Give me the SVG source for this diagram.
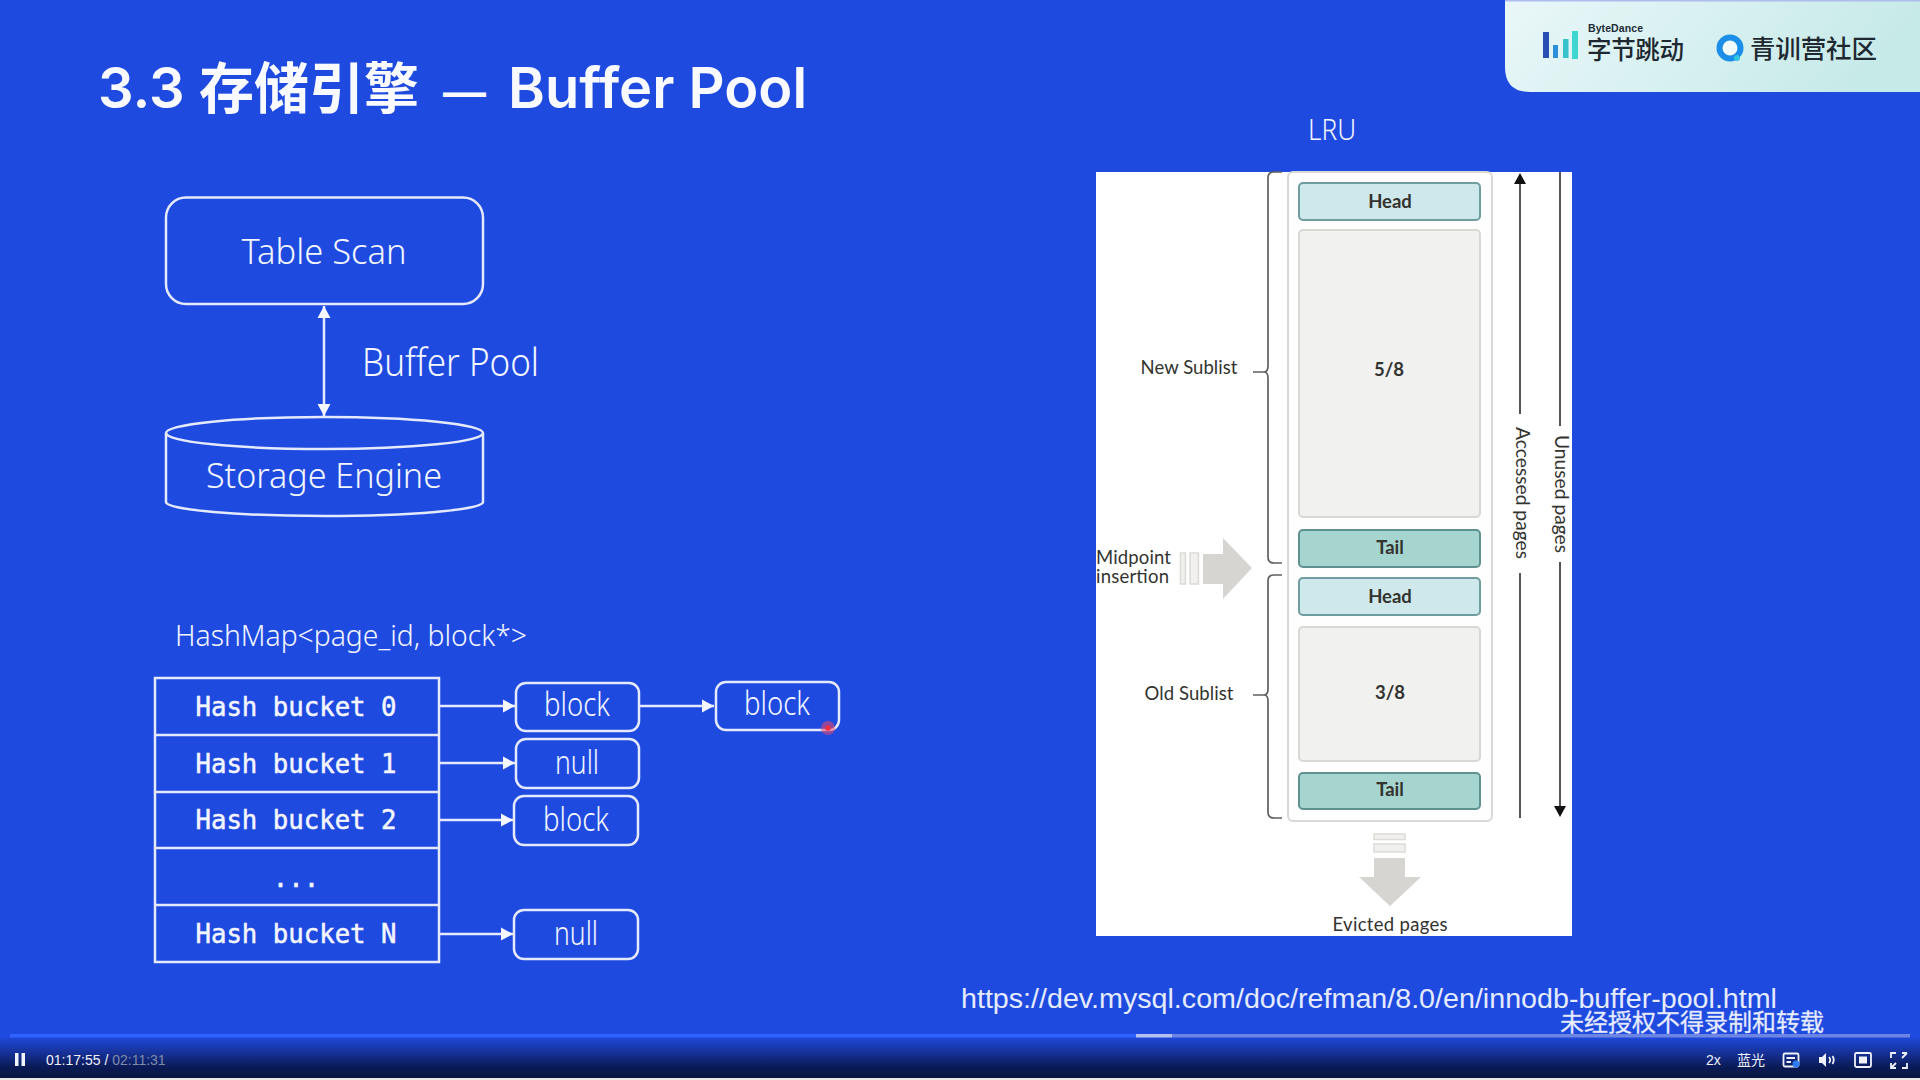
<svg xmlns="http://www.w3.org/2000/svg" width="1920" height="1080" viewBox="0 0 1920 1080">
<style>
.ln{fill:none;stroke:#e4eafc;stroke-width:2.5}
.wt{fill:#f2f6ff;font-family:"Noto Sans","Noto Sans CJK SC",sans-serif;font-weight:300;text-anchor:middle}
.bk{font-size:33px}
.hb{fill:#f3f6fe;stroke:#f3f6fe;stroke-width:0.5;font-family:"DejaVu Sans Mono","Liberation Mono",monospace;font-size:25.7px;text-anchor:middle}
.or{font-family:Lato,"Open Sans",sans-serif;fill:#33332f;text-anchor:middle}
.lb{font-size:18.5px}
.cell{font-size:18.5px;font-weight:bold}
.head{fill:#cfe8ec;stroke:#6f9c9e;stroke-width:2}
.tail{fill:#a6d4cf;stroke:#5e9290;stroke-width:2}
.gr{fill:#f1f1ef;stroke:#d8d8d5;stroke-width:2}
.br{fill:none;stroke:#5f5f5c;stroke-width:1.7}
.dk{fill:none;stroke:#55555a;stroke-width:2}
.ar{fill:#d6d5d2}
.sm{fill:#f1f0ee;stroke:#dcdbd8;stroke-width:1.5}
.ctl{fill:#eef1fa;font-family:"Liberation Sans","Noto Sans CJK SC",sans-serif;font-size:14px}
.ico{fill:none;stroke:#eef1fa;stroke-width:1.8}
</style>
<defs>
<marker id="wa" markerUnits="userSpaceOnUse" markerWidth="13" markerHeight="15" refX="12" refY="7.500" orient="auto-start-reverse"><path d="M0 1 L12 7.500 L0 14Z" fill="#f4f7fe"/></marker>
<linearGradient id="pg" x1="0" y1="0" x2="1" y2="0.2"><stop offset="0" stop-color="#eaf7f9"/><stop offset="1" stop-color="#c6eae8"/></linearGradient>
<linearGradient id="bar" x1="0" y1="0" x2="0" y2="1"><stop offset="0" stop-color="#1f4ae0"/><stop offset="0.4" stop-color="#163197"/><stop offset="0.75" stop-color="#0a1a55"/><stop offset="1" stop-color="#081540"/></linearGradient>
</defs>
<rect id="background" width="1920" height="1080" fill="#1f4ae0"/>
<text id="title" y="108" font-family="Inter,'Noto Sans CJK SC',sans-serif" font-size="56" font-weight="600" fill="#f8faff"><tspan x="98">3.3 </tspan><tspan x="199" font-size="55" font-family="'Noto Sans CJK SC',sans-serif" font-weight="700">存储引擎 </tspan><tspan x="443" font-size="43">— </tspan><tspan x="508">Buffer Pool</tspan></text>
<g id="logo-panel">
<path d="M1505 0H1920V92H1530Q1505 92 1505 67Z" fill="url(#pg)"/>
<rect x="1505" y="0" width="415" height="1.500" fill="#aebcf0"/>
<rect x="1543" y="32" width="6" height="26" fill="#2750b4"/><rect x="1553" y="45" width="5" height="13" fill="#2c8fd8"/><rect x="1563" y="39" width="5.500" height="19" fill="#37c2cc"/><rect x="1572" y="31" width="6" height="28" fill="#3fd6cf"/>
<text x="1588" y="32" font-family="'Liberation Sans',sans-serif" font-size="10.500" font-weight="bold" fill="#222c36" textLength="55">ByteDance</text>
<text x="1587" y="59" font-family="'Noto Sans CJK SC',sans-serif" font-size="24.500" font-weight="500" fill="#1e2830" textLength="97">字节跳动</text>
<circle cx="1730" cy="48" r="10.500" fill="#f1fbfb" stroke="#1a8ee8" stroke-width="6"/><circle cx="1737" cy="58" r="3" fill="#34c4e0"/>
<text x="1750" y="58" font-family="'Noto Sans CJK SC',sans-serif" font-size="25.500" font-weight="500" fill="#1e2830" textLength="127">青训营社区</text>
</g>
<g id="connectors">
<line class="ln" x1="324" y1="306" x2="324" y2="416" marker-start="url(#wa)" marker-end="url(#wa)"/>
<line class="ln" x1="439" y1="706" x2="515" y2="706" marker-end="url(#wa)"/>
<line class="ln" x1="640" y1="706" x2="714" y2="706" marker-end="url(#wa)"/>
<line class="ln" x1="439" y1="763" x2="515" y2="763" marker-end="url(#wa)"/>
<line class="ln" x1="439" y1="820" x2="513" y2="820" marker-end="url(#wa)"/>
<line class="ln" x1="439" y1="934" x2="513" y2="934" marker-end="url(#wa)"/>
</g>
<g id="table-scan"><rect class="ln" x="166" y="197.500" width="317" height="106.500" rx="20"/><text class="wt" x="324" y="264" font-size="35" textLength="165" lengthAdjust="spacingAndGlyphs">Table Scan</text></g>
<text id="buffer-pool-label" class="wt" x="450.500" y="376" font-size="38" textLength="177" lengthAdjust="spacingAndGlyphs">Buffer Pool</text>
<g id="storage-engine"><ellipse class="ln" cx="324.500" cy="433" rx="158.500" ry="16"/><path class="ln" d="M166 433V502C166 510 240 516 324.500 516S483 510 483 502V433"/><text class="wt" x="324" y="488" font-size="35" textLength="236" lengthAdjust="spacingAndGlyphs">Storage Engine</text></g>
<text id="hashmap-label" class="wt" x="351" y="646" font-size="30" textLength="352" lengthAdjust="spacingAndGlyphs">HashMap&lt;page_id, block*&gt;</text>
<g id="hash-table">
<rect class="ln" x="155" y="678" width="284" height="284"/>
<path class="ln" d="M155 735H439M155 792H439M155 848H439M155 905H439"/>
<text class="hb" x="296" y="716">Hash bucket 0</text>
<text class="hb" x="296" y="773">Hash bucket 1</text>
<text class="hb" x="296" y="829">Hash bucket 2</text>
<text class="hb" x="296" y="887">...</text>
<text class="hb" x="296" y="943">Hash bucket N</text>
</g>
<g id="block-0-1"><rect class="ln" x="516" y="683" width="123" height="48" rx="10"/><text class="wt bk" x="577" y="716" textLength="66" lengthAdjust="spacingAndGlyphs">block</text></g>
<g id="block-0-2"><rect class="ln" x="716" y="682" width="123" height="48" rx="10"/><text class="wt bk" x="777" y="715" textLength="66" lengthAdjust="spacingAndGlyphs">block</text></g>
<g id="null-1"><rect class="ln" x="516" y="739" width="123" height="49" rx="10"/><text class="wt bk" x="577" y="774" textLength="44" lengthAdjust="spacingAndGlyphs">null</text></g>
<g id="block-2"><rect class="ln" x="514" y="796" width="124" height="49" rx="10"/><text class="wt bk" x="576" y="831" textLength="66" lengthAdjust="spacingAndGlyphs">block</text></g>
<g id="null-n"><rect class="ln" x="514" y="910" width="124" height="49" rx="10"/><text class="wt bk" x="576" y="945" textLength="44" lengthAdjust="spacingAndGlyphs">null</text></g>
<g id="cursor"><circle cx="828" cy="728" r="7" fill="#e8476a" opacity="0.55"/><circle cx="828" cy="728" r="2.800" fill="#f03040"/></g>
<text id="lru-label" class="wt" x="1332" y="140" font-size="30" textLength="48" lengthAdjust="spacingAndGlyphs">LRU</text>
<g id="lru-figure">
<rect x="1096" y="172" width="476" height="764" fill="#fff"/>
<rect x="1288" y="172" width="204" height="649" rx="5" fill="#fefefe" stroke="#d8d8d6" stroke-width="2"/>
<path class="br" d="M1282 172H1274Q1268 172 1268 178V366Q1268 372 1264 372H1253M1264 372Q1268 372 1268 378V557Q1268 563 1274 563H1282"/>
<path class="br" d="M1282 575H1274Q1268 575 1268 581V689Q1268 695 1264 695H1253M1264 695Q1268 695 1268 701V812Q1268 818 1274 818H1282"/>
<g id="head-1"><rect class="head" x="1299" y="183" width="181" height="37" rx="4"/><text class="or cell" x="1390" y="208">Head</text></g>
<g id="new-5-8"><rect class="gr" x="1299" y="230" width="181" height="287" rx="4"/><text class="or cell" x="1389" y="376">5/8</text></g>
<g id="tail-1"><rect class="tail" x="1299" y="530" width="181" height="37" rx="4"/><text class="or cell" x="1390" y="554">Tail</text></g>
<g id="head-2"><rect class="head" x="1299" y="578" width="181" height="37" rx="4"/><text class="or cell" x="1390" y="603">Head</text></g>
<g id="old-3-8"><rect class="gr" x="1299" y="627" width="181" height="134" rx="4"/><text class="or cell" x="1390" y="699">3/8</text></g>
<g id="tail-2"><rect class="tail" x="1299" y="773" width="181" height="36" rx="4"/><text class="or cell" x="1390" y="796">Tail</text></g>
<text class="or lb" x="1189" y="374" textLength="97">New Sublist</text>
<text class="or lb" x="1189" y="700" textLength="89">Old Sublist</text>
<text class="or lb" x="1096" y="564" style="text-anchor:start" textLength="75">Midpoint</text>
<text class="or lb" x="1096" y="583" style="text-anchor:start" textLength="73">insertion</text>
<text class="or lb" x="1390" y="931" textLength="115">Evicted pages</text>
<rect class="sm" x="1180.500" y="553" width="5" height="31"/><rect class="sm" x="1190" y="553" width="8.500" height="31"/>
<path class="ar" d="M1203 554H1223V538L1252 568L1223 599V584H1203Z"/>
<rect class="sm" x="1374" y="834" width="31" height="5.500"/><rect class="sm" x="1374" y="844" width="31" height="8"/>
<path class="ar" d="M1374 858H1405V877H1421L1390 906L1359 877H1374Z"/>
<path class="dk" d="M1520 414V177M1520 573V818"/><path d="M1520 173L1514 184H1526Z" fill="#111"/>
<path class="dk" d="M1560 172V426M1560 562V807"/><path d="M1560 817L1554 806H1566Z" fill="#111"/>
<text class="or lb" transform="translate(1516 493) rotate(90)" textLength="132" lengthAdjust="spacingAndGlyphs">Accessed pages</text>
<text class="or lb" transform="translate(1555 494) rotate(90)" textLength="118" lengthAdjust="spacingAndGlyphs">Unused pages</text>
</g>
<text id="url" x="961" y="1008" font-family="'Liberation Sans',sans-serif" font-size="27" fill="#e4ebfc" textLength="816" lengthAdjust="spacingAndGlyphs">https://dev.mysql.com/doc/refman/8.0/en/innodb-buffer-pool.html</text>
<g id="player">
<rect y="1036" width="1920" height="42" fill="url(#bar)"/>
<rect y="1078" width="1920" height="2" fill="#e8e8e8"/>
<rect x="10" y="1034" width="1126" height="3.500" fill="#2f62ff"/>
<rect x="1136" y="1034" width="36" height="3.500" fill="#b4c0ee"/>
<rect x="1172" y="1034" width="738" height="3.500" fill="#6c84e2"/>
<rect x="15" y="1053" width="3.500" height="13" fill="#f2f4fb"/><rect x="21.500" y="1053" width="3.500" height="13" fill="#f2f4fb"/>
<text class="ctl" x="46" y="1065">01:17:55 / <tspan fill="#7f8aa8">02:11:31</tspan></text>
<text class="ctl" x="1706" y="1065">2x</text>
<text class="ctl" x="1737" y="1065">蓝光</text>
<rect class="ico" x="1783.500" y="1053.500" width="15" height="13" rx="1.500"/><path class="ico" d="M1786.500 1058H1795M1786.500 1062H1791"/><circle cx="1796" cy="1064" r="3.500" fill="#2f7cf0"/>
<path d="M1819 1057H1822L1826 1053V1067L1822 1063H1819Z" fill="#eef1fa"/><path class="ico" d="M1829 1057Q1831.500 1060 1829 1063M1832.500 1056Q1835 1060 1832.500 1064"/>
<rect class="ico" x="1855" y="1053" width="16" height="14" rx="1.500"/><rect x="1859" y="1056.500" width="8" height="7" fill="#eef1fa"/>
<path class="ico" d="M1891 1058V1053H1896M1902 1053H1907M1891 1063V1068H1896M1907 1063V1068H1902M1907 1053L1902 1058M1891 1068L1896 1063"/>
</g>
<text id="watermark" x="1560" y="1031" font-family="'Noto Sans CJK SC',sans-serif" font-size="24" fill="#eef2fe" stroke="#c9d5fa" stroke-width="0.400">未经授权不得录制和转载</text>
</svg>
